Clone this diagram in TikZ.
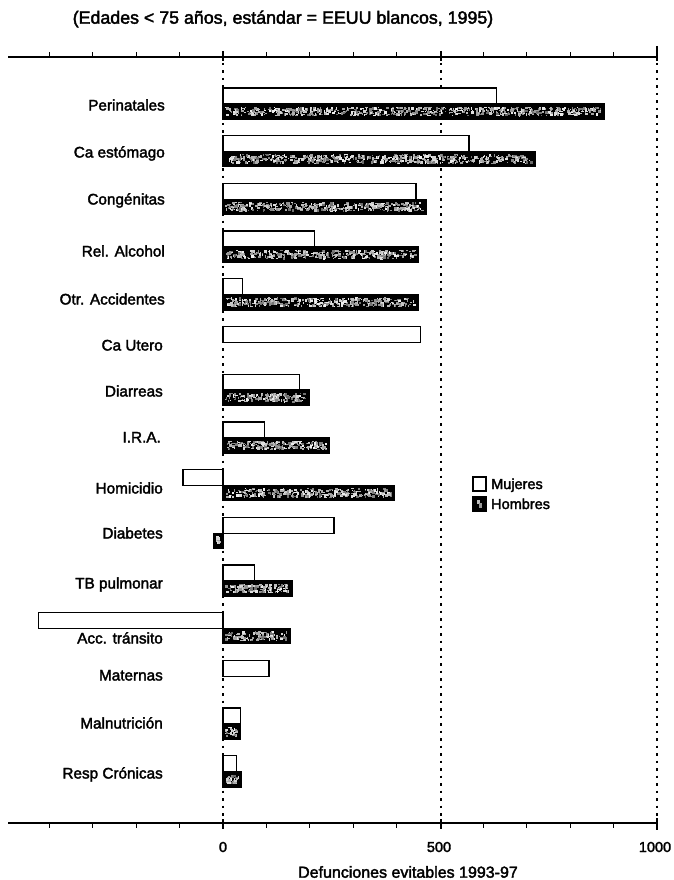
\documentclass[tikz,border=0pt]{standalone}
\usepackage{fontspec}
\setmainfont{Liberation Sans}[FakeBold=2.2]
\newcommand{\whitebar}[2]{%
  \pgfmathsetmacro\barY{104+47.7*#1}%
  \pgfmathsetmacro\xw{223+0.434*#2}%
  \draw[wbar] (223,\barY-16) rectangle (\xw,\barY);}
\newcommand{\darkbar}[2]{%
  \pgfmathsetmacro\barY{104+47.7*#1}%
  \pgfmathsetmacro\xd{223+0.434*#2}%
  \pgfmathsetmacro\xa{min(223,\xd)}%
  \pgfmathsetmacro\blen{abs(\xd-223)}%
  \pgfmathtruncatemacro\nsp{max(4,\blen*1.8)}%
  \fill[black] (223,\barY) rectangle (\xd,\barY+15);
  \foreach \k in {1,...,\nsp}{%
    \pgfmathsetmacro\ss{0.8+2.4*rnd}%
    \pgfmathsetmacro\sw{0.8+2.4*rnd}%
    \pgfmathsetmacro\sx{\xa+2+rnd*(\blen-4-\sw)}%
    \pgfmathsetmacro\sy{\barY+2.5+rnd*(10-\ss)}%
    \pgfmathsetmacro\sc{5+55*rnd}%
    \fill[black!\sc] (\sx,\sy) rectangle (\sx+\sw,\sy+\ss);}
  \draw[dline] (223,\barY) rectangle (\xd,\barY+15);}
\begin{document}
\begin{tikzpicture}[x=1pt,y=-1pt,
  lab/.style={anchor=base east, inner sep=0pt, font=\fontsize{15.3}{18}\selectfont},
  wbar/.style={draw=black, line width=1.3pt, fill=white},
  dline/.style={draw=black, line width=1.5pt},
  vdot/.style={line width=1.2pt, dash pattern=on 2.5pt off 5pt},
  axisline/.style={line width=1.1pt},
  ticklab/.style={inner sep=0pt, font=\fontsize{14.5}{17}\selectfont}]
\useasboundingbox (0,0) rectangle (674,880);
\pgfmathsetseed{2718}
% title
\node[inner sep=0pt, font=\fontsize{17.8}{21}\selectfont] (title) at (283,19) {(Edades < 75 años, estándar = EEUU blancos, 1995)};
% dotted verticals
\foreach \xx in {223,441,657} \draw[vdot] (\xx,63) -- (\xx,820);
% axes
\draw[axisline] (8,57) -- (657,57);
\draw[axisline] (8,823) -- (657,823);
\foreach \v in {-400,-300,-200,-100,100,200,300,400,600,700,800,900}{
  \draw[axisline] ({223+0.434*\v},57) -- ++(0,-4.5);
  \draw[axisline] ({223+0.434*\v},823) -- ++(0,4.5);}
\foreach \xx in {223,441}{
  \draw[axisline] (\xx,51) -- (\xx,61);
  \draw[axisline] (\xx,819) -- (\xx,829);}
\draw[axisline] (657,46) -- (657,61);
\draw[axisline] (657,818) -- (657,830);
% tick labels
\node[ticklab] (t0) at (223,847) {0};
\node[ticklab] (t500) at (439,847) {500};
\node[ticklab] (t1000) at (655,847) {1000};
\node[inner sep=0pt, font=\fontsize{16}{19}\selectfont] (xlab) at (408,872) {Defunciones evitables 1993-97};
% labels
\node[lab] (l0) at (165,110.5) {Perinatales};
\node[lab] (l1) at (165,157.5) {Ca estómago};
\node[lab] (l2) at (165,204.5) {Congénitas};
\node[lab] (l3) at (165,256.5) {Rel. Alcohol};
\node[lab] (l4) at (165,304.5) {Otr. Accidentes};
\node[lab] (l5) at (163,350.5) {Ca Utero};
\node[lab] (l6) at (163,396.5) {Diarreas};
\node[lab] (l7) at (161,442.5) {I.R.A.};
\node[lab] (l8) at (163,493.5) {Homicidio};
\node[lab] (l9) at (163,538.5) {Diabetes};
\node[lab] (l10) at (163,588.5) {TB pulmonar};
\node[lab] (l11) at (163,643.5) {Acc. tránsito};
\node[lab] (l12) at (163,680.5) {Maternas};
\node[lab] (l13) at (163,728.5) {Malnutrición};
\node[lab] (l14) at (163,778.5) {Resp Crónicas};
% bars
\whitebar{0}{630}  \darkbar{0}{878}
\whitebar{1}{567}  \darkbar{1}{720}
\whitebar{2}{445}  \darkbar{2}{468}
\whitebar{3}{211}  \darkbar{3}{451}
\whitebar{4}{45}   \darkbar{4}{451}
\whitebar{5}{455}
\whitebar{6}{176}  \darkbar{6}{198}
\whitebar{7}{96}   \darkbar{7}{245}
\whitebar{8}{-92}  \darkbar{8}{395}
\whitebar{9}{256}  \darkbar{9}{-21}
\whitebar{10}{73}  \darkbar{10}{159}
\whitebar{11}{-425} \darkbar{11}{155}
\whitebar{12}{106}
\whitebar{13}{40}  \darkbar{13}{40}
\whitebar{14}{31}  \darkbar{14}{43}
% legend
\draw[wbar] (473,477) rectangle (486,491);
\fill[black] (473,497) rectangle (486,511);
\fill[black!25] (477,500) rectangle (480,504);
\fill[black!40] (479,503) rectangle (482,508);
\draw[dline] (473,497) rectangle (486,511);
\node[anchor=base west, inner sep=0pt, font=\fontsize{14.5}{17}\selectfont] (lm) at (491,489) {Mujeres};
\node[anchor=base west, inner sep=0pt, font=\fontsize{14.5}{17}\selectfont] (lh) at (491,509) {Hombres};
\end{tikzpicture}
\end{document}
